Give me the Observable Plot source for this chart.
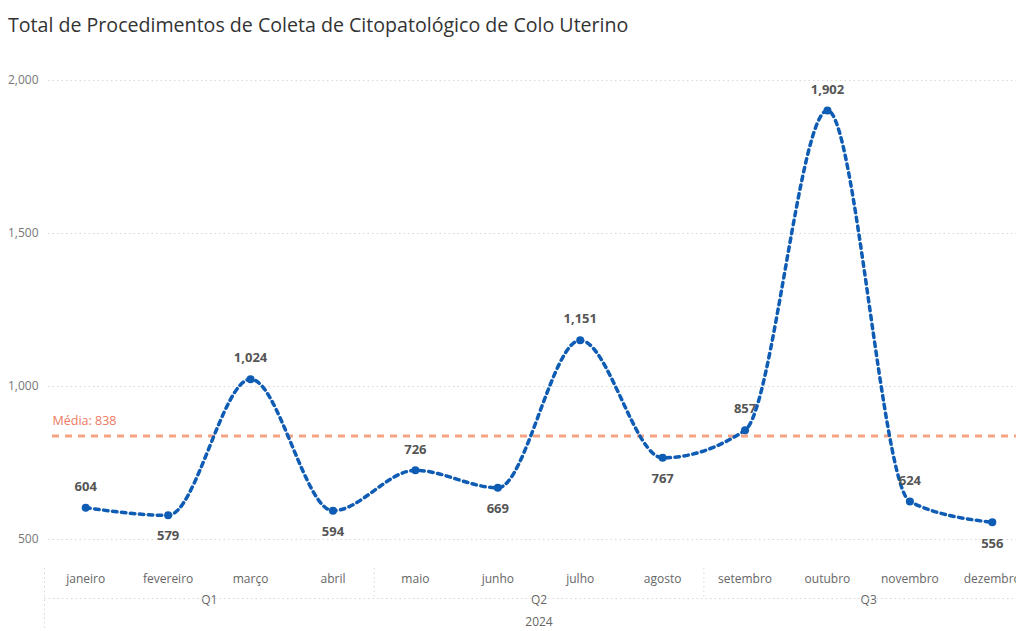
<!DOCTYPE html>
<html><head><meta charset="utf-8">
<script src="https://cdn.jsdelivr.net/npm/d3@7"></script>
<script src="https://cdn.jsdelivr.net/npm/@observablehq/plot@0.6"></script>
<style>
html,body{margin:0;padding:0;background:#fff;overflow:hidden;width:1016px;height:631px;}
#title{font-family:"Segoe UI","Open Sans",sans-serif;font-size:19.6px;color:#333;height:50px;box-sizing:border-box;padding:11px 0 0 8px;white-space:nowrap;}
</style></head>
<body>
<div id="title">Total de Procedimentos de Coleta de Citopatológico de Colo Uterino</div>
<div id="chart"></div>
<script>
const months = ["janeiro","fevereiro","março","abril","maio","junho","julho","agosto","setembro","outubro","novembro","dezembro"];
const values = [604,579,1024,594,726,669,1151,767,857,1902,624,556];
const quarters = ["Q1","Q2","Q3"];
const monthsPerQuarter = 4;
const year = "2024";
const yTicks = [500,1000,1500,2000];

const data = months.map((m,i)=>({i, month:m, value:values[i]}));
data.forEach((d,i)=>{
  const prev = values[i-1], next = values[i+1];
  d.below = prev !== undefined && d.value < prev && (next === undefined || d.value < next);
});
const mean = Math.round(d3.mean(values));
const qData = quarters.map((q,k)=>({q, x: k*monthsPerQuarter + (monthsPerQuarter-1)/2}));
const seps = quarters.map((q,k)=>k*monthsPerQuarter - 0.5);
const fmt = d3.format(",");
const blue = "#0f5cb4";
const gray = "#666";
const grid = {stroke: "#d8d8d8", strokeDasharray: "1.5,3"};

const chart = Plot.plot({
  width: 1016, height: 581,
  marginTop: 0, marginBottom: 0, marginLeft: 46, marginRight: 0,
  style: {fontFamily: '"Segoe UI","Open Sans",sans-serif', background: "white"},
  x: {type: "linear", domain: [-0.5, 11.5], range: [44, 1033], axis: null},
  y: {domain: [500, 2000], range: [489, 30], axis: null},
  marks: [
    Plot.ruleY(yTicks, {...grid, insetLeft: 2}),
    Plot.axisY(yTicks, {tickSize: 0, tickPadding: 8, tickFormat: fmt, fontSize: 12, fill: "#777", label: null}),
    Plot.ruleY([mean], {stroke: "#f6a384", strokeWidth: 3, strokeDasharray: "7,6", insetLeft: 6}),
    Plot.text([mean], {x: () => -0.5, y: d => d, text: d => `Média: ${fmt(d)}`, textAnchor: "start", dx: 8, dy: -15, fill: "#ec7a5f", fontSize: 12.5}),
    Plot.line(data, {x: "i", y: "value", curve: "monotone-x", stroke: blue, strokeWidth: 3.5, strokeDasharray: "4.5,4.5"}),
    Plot.dot(data, {x: "i", y: "value", r: 4, fill: blue}),
    Plot.text(data.filter(d => !d.below), {x: "i", y: "value", text: d => fmt(d.value), dy: -21, fill: "#555", fontSize: 13, fontWeight: "bold"}),
    Plot.text(data.filter(d => d.below), {x: "i", y: "value", text: d => fmt(d.value), dy: 21, fill: "#555", fontSize: 13, fontWeight: "bold"}),
    Plot.text(data, {x: "i", text: "month", frameAnchor: "bottom", dy: -49, fill: gray, fontSize: 12}),
    Plot.text(qData, {x: "x", text: "q", frameAnchor: "bottom", dy: -28, fill: gray, fontSize: 12}),
    Plot.text([year], {x: () => 5.5, text: d => d, frameAnchor: "bottom", dy: -6, fill: gray, fontSize: 12}),
    Plot.ruleX(seps.slice(1), {...grid, insetTop: 518, insetBottom: 33}),
    Plot.ruleX(seps.slice(0,1), {...grid, insetTop: 518}),
    Plot.ruleY([500], {...grid, x1: -0.5, x2: 11.5, dy: 59})
  ]
});
document.getElementById("chart").appendChild(chart);
</script>
</body></html>
